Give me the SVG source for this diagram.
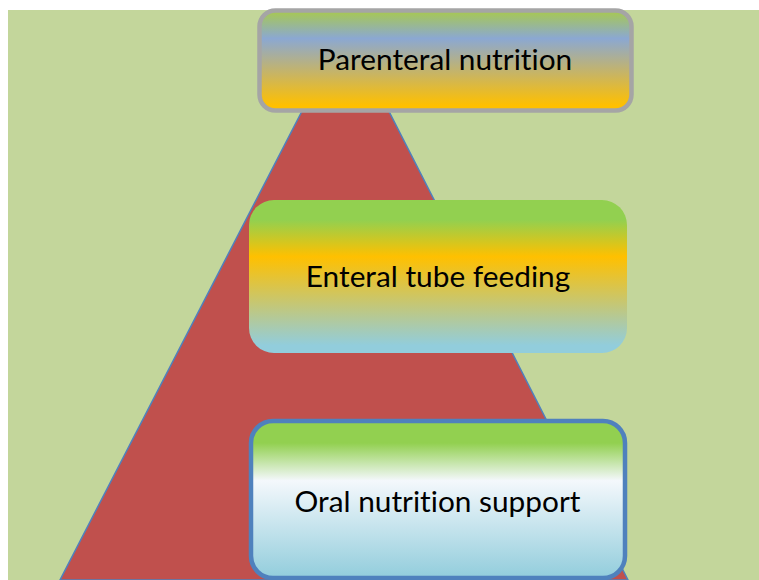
<svg xmlns="http://www.w3.org/2000/svg" width="759" height="580" viewBox="0 0 759 580">
<style>
  .lbl { font-family: Lato, "Open Sans", "Liberation Sans", sans-serif; font-size: 29.8px; fill: #000; text-anchor: middle; font-variant-ligatures: none; }
</style>
<defs>
  <linearGradient id="g1" x1="0" y1="0" x2="0" y2="1">
    <stop offset="0" stop-color="#a8c94e"/>
    <stop offset="0.28" stop-color="#8ba8d2"/>
    <stop offset="0.95" stop-color="#ffc000"/>
  </linearGradient>
  <linearGradient id="g2" x1="0" y1="0" x2="0" y2="1">
    <stop offset="0" stop-color="#92d050"/>
    <stop offset="0.13" stop-color="#92d050"/>
    <stop offset="0.37" stop-color="#ffc000"/>
    <stop offset="0.95" stop-color="#92cddc"/>
  </linearGradient>
  <linearGradient id="g3" x1="0" y1="0" x2="0" y2="1">
    <stop offset="0" stop-color="#92d050"/>
    <stop offset="0.14" stop-color="#92d050"/>
    <stop offset="0.38" stop-color="#f4f8fc"/>
    <stop offset="1" stop-color="#92cddc"/>
  </linearGradient>
</defs>
<rect x="0" y="0" width="759" height="580" fill="#ffffff"/>
<rect id="background" x="8" y="10" width="751" height="570" fill="#c3d69b"/>
<polygon id="pyramid" points="342.4,20 349,20 60,580 628,580" fill="#c0504d" stroke="#4f81bd" stroke-width="1.5"/>
<g id="connectors"></g>
<g id="node-parenteral">
  <rect x="259.5" y="10.5" width="372" height="100" rx="16" fill="url(#g1)" stroke="#a5a5a5" stroke-width="4.5"/>
  <text class="lbl" x="445" y="70">Parenteral nutrition</text>
</g>
<g id="node-enteral">
  <rect x="249" y="200" width="378" height="153" rx="25" fill="url(#g2)"/>
  <text class="lbl" x="438" y="287">Enteral tube feeding</text>
</g>
<g id="node-oral">
  <rect x="251" y="421" width="374" height="157" rx="22" fill="url(#g3)" stroke="#4f81bd" stroke-width="4.5"/>
  <text class="lbl" x="437.5" y="512">Oral nutrition support</text>
</g>
</svg>
